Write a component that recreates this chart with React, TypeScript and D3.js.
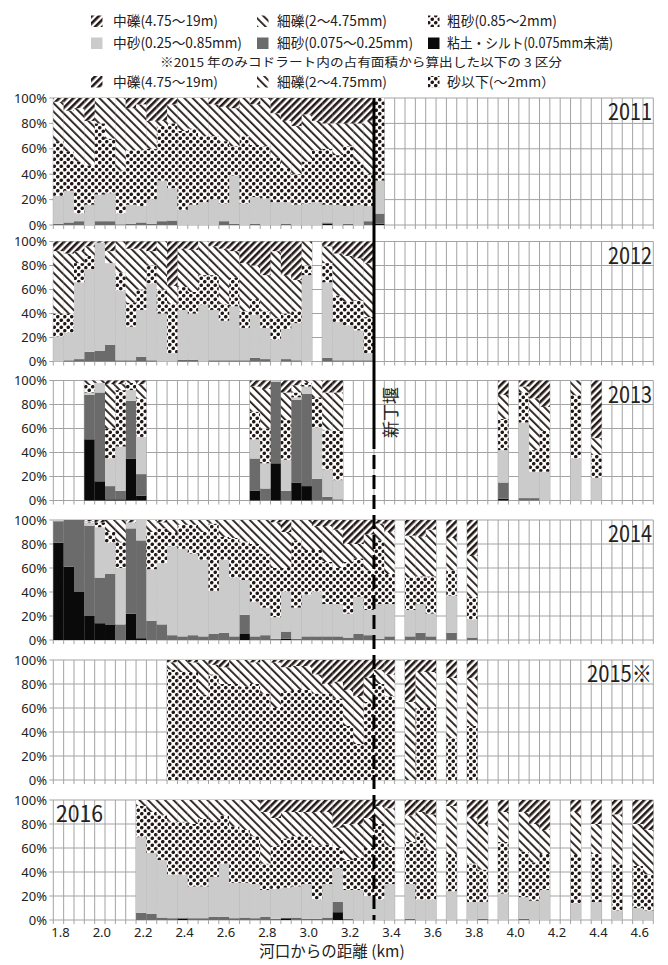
import React from 'react';
import * as d3 from 'd3';

// distance from river mouth (km), one column per 50 m
const distances = [
  '1.80', '1.85', '1.90', '1.95', '2.00', '2.05', '2.10', '2.15', '2.20', '2.25',
  '2.30', '2.35', '2.40', '2.45', '2.50', '2.55', '2.60', '2.65', '2.70', '2.75',
  '2.80', '2.85', '2.90', '2.95', '3.00', '3.05', '3.10', '3.15', '3.20', '3.25',
  '3.30', '3.35', '3.40', '3.45', '3.50', '3.55', '3.60', '3.65', '3.70', '3.75',
  '3.80', '3.85', '3.90', '3.95', '4.00', '4.05', '4.10', '4.15', '4.20', '4.25',
  '4.30', '4.35', '4.40', '4.45', '4.50', '4.55', '4.60', '4.65',
];
const xTickLabels = ['1.8', '2.0', '2.2', '2.4', '2.6', '2.8', '3.0', '3.2', '3.4', '3.6', '3.8', '4.0', '4.2', '4.4', '4.6'];
const yTicks = [0, 20, 40, 60, 80, 100];
const weirKm = '3.35';

const sixKeys = ['silt', 'fineSand', 'mediumSand', 'coarseSand', 'fineGravel', 'mediumGravel'];
const threeKeys = ['sandBelow', 'fineGravel', 'mediumGravel'];

// [km, 粘土・シルト, 細砂, 中砂, 粗砂, 細礫, 中礫] (%)
const rows2011 = [
  ['1.80', 0, 1, 22, 43, 31, 3], ['1.85', 0, 2, 25, 31, 32, 10], ['1.90', 0, 3, 6, 41, 42, 8],
  ['1.95', 0, 0, 16, 31, 35, 18], ['2.00', 0, 3, 21, 56, 20, 0], ['2.05', 0, 3, 22, 43, 32, 0],
  ['2.10', 0, 0.5, 8.5, 34, 57, 0], ['2.15', 0, 1, 15, 43, 33, 8], ['2.20', 0, 2, 13, 44, 36, 5],
  ['2.25', 0, 1, 19, 40, 22, 18], ['2.30', 0, 3, 32, 43, 4, 18], ['2.35', 0, 3.5, 25.5, 51, 15, 5],
  ['2.40', 0, 0, 12, 62, 26, 0], ['2.45', 0, 0, 16, 60, 24, 0], ['2.50', 0, 0, 18, 52, 30, 0],
  ['2.55', 0, 0, 20, 50, 25, 5], ['2.60', 0, 3, 14, 49, 27, 7], ['2.65', 0, 1, 38, 23, 30, 8],
  ['2.70', 0, 0, 17, 53, 30, 0], ['2.75', 0, 1, 21, 41, 32, 5], ['2.80', 0, 0, 21, 41, 38, 0],
  ['2.85', 0, 0, 18, 35, 35, 12], ['2.90', 0, 1, 17, 27, 37, 18], ['2.95', 0, 0, 16, 24, 38, 22],
  ['3.00', 0, 0, 17, 33, 37, 13], ['3.05', 0, 0, 18, 41, 23, 18], ['3.10', 1, 1, 14, 44, 20, 20],
  ['3.15', 0, 0, 16, 39, 25, 20], ['3.20', 0, 1, 14, 47, 18, 20], ['3.25', 0, 0, 16, 34, 30, 20],
  ['3.30', 0, 3, 12, 25, 42, 18], ['3.35', 1, 8, 26, 65, 0, 0],
];

const rows2012 = [
  ['1.80', 0, 0, 21, 19, 52, 8], ['1.85', 0, 1, 23, 16, 50, 10], ['1.90', 0, 2, 64, 16, 10, 8],
  ['1.95', 0, 8, 69, 11, 8, 4], ['2.00', 0, 9, 90, 0, 0, 1], ['2.05', 0, 14, 68, 0, 10, 8],
  ['2.10', 0, 1, 58, 15, 26, 0], ['2.15', 0, 1, 28, 20, 45, 6], ['2.20', 0, 4, 39, 17, 34, 6],
  ['2.25', 0, 1, 64, 15, 12, 8], ['2.30', 0, 0, 40, 20, 40, 0], ['2.35', 0, 0, 7, 41, 15, 37],
  ['2.40', 0, 1.5, 41.5, 19, 32, 6], ['2.45', 0, 1.5, 38.5, 18, 35, 7], ['2.50', 0, 0, 47, 25, 28, 0],
  ['2.55', 0, 1, 42, 29, 24, 4], ['2.60', 0, 1, 33, 14, 46, 6], ['2.65', 0, 1, 45, 24, 22, 8],
  ['2.70', 0, 1, 27, 14, 40, 18], ['2.75', 0, 3, 36, 13, 28, 20], ['2.80', 0, 2, 26, 14, 30, 28],
  ['2.85', 0, 0, 18, 18, 56, 8], ['2.90', 0, 2, 25, 13, 32, 28], ['2.95', 0, 1, 31, 10, 26, 32],
  ['3.00', 0, 0, 72, 8, 20, 0], ['3.10', 0, 3, 63, 16, 14, 4], ['3.15', 0, 1, 32, 22, 35, 10],
  ['3.20', 0, 1, 29, 20, 38, 12], ['3.25', 0, 1, 25, 25, 35, 14], ['3.30', 0, 1, 6, 30, 45, 18],
];

const rows2013 = [
  ['1.95', 51, 37, 2, 7, 3, 0], ['2.00', 16, 74, 8, 0, 2, 0], ['2.05', 1, 11, 23, 25, 37, 3],
  ['2.10', 1, 7, 37, 47, 5, 3], ['2.15', 35, 48, 9, 6, 2, 0], ['2.20', 4, 18, 31, 32, 12, 3],
  ['2.75', 8, 27, 16, 23, 21, 5], ['2.80', 0, 10, 21, 29, 33, 7], ['2.85', 31, 68, 1, 0, 0, 0],
  ['2.90', 0, 8, 26, 33, 23, 10], ['2.95', 15, 69, 2, 4, 6, 4], ['3.00', 12, 77, 6, 3, 2, 0],
  ['3.05', 0, 18, 43, 25, 14, 0], ['3.10', 0, 3, 23, 33, 31, 10], ['3.15', 0, 1, 16, 41, 32, 10],
  ['3.95', 1.5, 13.5, 27, 26, 20, 12], ['4.05', 0, 2, 63, 25, 5, 5], ['4.10', 0, 2, 22, 18, 43, 15],
  ['4.15', 0, 0, 24, 34, 20, 22], ['4.30', 0, 0, 35, 53, 12, 0], ['4.40', 0, 0, 19, 19, 14, 48],
];

const rows2014 = [
  ['1.80', 81, 18, 1, 0, 0, 0], ['1.85', 61, 39, 0, 0, 0, 0], ['1.90', 40, 60, 0, 0, 0, 0],
  ['1.95', 20, 75, 3, 1, 0, 1], ['2.00', 14, 38, 42, 4, 0, 2], ['2.05', 13, 42, 26, 9, 10, 0],
  ['2.10', 0, 13, 47, 22, 18, 0], ['2.15', 22, 71, 5, 0, 0, 2], ['2.20', 1.5, 81.5, 17, 0, 0, 0],
  ['2.25', 0, 16, 43, 31, 10, 0], ['2.30', 0, 13, 51, 29, 5, 2], ['2.35', 0, 4, 74, 12, 10, 0],
  ['2.40', 0, 3, 73, 20, 4, 0], ['2.45', 0, 4, 68, 24, 4, 0], ['2.50', 0, 3, 64, 23, 10, 0],
  ['2.55', 0, 5, 36, 56, 3, 0], ['2.60', 0, 6, 61, 19, 14, 0], ['2.65', 0, 3, 49, 33, 15, 0],
  ['2.70', 5, 16, 29, 32, 18, 0], ['2.75', 0, 3, 29, 48, 20, 0], ['2.80', 0, 4, 23, 45, 28, 0],
  ['2.85', 0, 1, 18, 41, 38, 2], ['2.90', 1, 6, 33, 20, 30, 10], ['2.95', 0, 1, 26, 56, 17, 0],
  ['3.00', 0, 3, 35, 37, 25, 0], ['3.05', 0, 3, 37, 35, 20, 5], ['3.10', 0, 3, 27, 35, 30, 5],
  ['3.15', 0, 3, 27, 30, 32, 8], ['3.20', 0, 2, 20, 43, 15, 20], ['3.25', 0, 5, 31, 32, 12, 20],
  ['3.30', 0, 4, 21, 33, 30, 12], ['3.35', 0, 1, 29, 53, 14, 3], ['3.40', 0, 3, 27, 25, 35, 10],
  ['3.50', 0, 3, 22, 27, 35, 13], ['3.55', 0, 6, 24, 23, 33, 14], ['3.60', 0, 3, 19, 31, 39, 8],
  ['3.70', 0, 6, 31, 21, 27, 15], ['3.80', 0, 2, 15, 19, 34, 30],
];

// 2015: [km, 砂以下, 細礫, 中礫] (%)
const rows2015 = [
  ['2.35', 92, 6, 2], ['2.40', 90, 10, 0], ['2.45', 90, 8, 2], ['2.50', 71, 29, 0], ['2.55', 88, 8, 4],
  ['2.60', 80, 14, 6], ['2.65', 80, 20, 0], ['2.70', 78, 22, 0], ['2.75', 80, 18, 2], ['2.80', 72, 28, 0],
  ['2.85', 60, 38, 2], ['2.90', 74, 20, 6], ['2.95', 75, 20, 5], ['3.00', 75, 20, 5], ['3.05', 72, 16, 12],
  ['3.10', 72, 8, 20], ['3.15', 68, 14, 18], ['3.20', 45, 30, 25], ['3.25', 30, 40, 30], ['3.30', 65, 20, 15],
  ['3.35', 80, 12, 8], ['3.40', 70, 18, 12], ['3.50', 0, 65, 35], ['3.55', 60, 30, 10], ['3.60', 60, 30, 10],
  ['3.70', 35, 50, 15], ['3.80', 45, 40, 15],
];

const rows2016 = [
  ['2.20', 0, 6, 63, 26, 5, 0], ['2.25', 0, 5, 51, 34, 10, 0], ['2.30', 0, 2, 48, 38, 12, 0],
  ['2.35', 0, 1.5, 36.5, 44, 18, 0], ['2.40', 1, 1, 36, 44, 18, 0], ['2.45', 0, 1.5, 26.5, 52, 20, 0],
  ['2.50', 0, 1.5, 26.5, 57, 15, 0], ['2.55', 0, 2.5, 33.5, 47, 17, 0], ['2.60', 0, 2.5, 44.5, 40, 13, 0],
  ['2.65', 0, 1.5, 29.5, 47, 22, 0], ['2.70', 0, 2, 29, 44, 25, 0], ['2.75', 0, 1.5, 28.5, 40, 30, 0],
  ['2.80', 0, 2.5, 22.5, 22, 43, 10], ['2.85', 0, 1, 25, 36, 23, 15], ['2.90', 1.5, 0, 25.5, 41, 22, 10],
  ['2.95', 0, 2, 26, 42, 20, 10], ['3.00', 0, 1, 29, 40, 20, 10], ['3.05', 0, 1, 16, 45, 28, 10],
  ['3.10', 0, 2, 28, 33, 27, 10], ['3.15', 6.5, 8.5, 28, 17, 17, 23], ['3.20', 0, 1, 24, 25, 30, 20],
  ['3.25', 0, 0, 25, 27, 28, 20], ['3.30', 0, 0, 20, 40, 25, 15], ['3.35', 0, 0, 17, 63, 15, 5],
  ['3.40', 0, 0, 30, 32, 31, 7], ['3.50', 0, 1, 29, 35, 22, 13], ['3.55', 0, 0, 17, 56, 17, 10],
  ['3.60', 0, 0, 17, 41, 30, 12], ['3.70', 0, 0, 24, 31, 40, 5], ['3.80', 0, 0, 15, 32, 38, 15],
  ['3.85', 0, 1, 14, 27, 38, 20], ['3.95', 0, 0, 22, 43, 25, 10], ['4.05', 0, 1, 18, 38, 33, 10],
  ['4.10', 0, 0, 16, 32, 32, 20], ['4.15', 0, 0, 25, 30, 20, 25], ['4.30', 0, 0, 14, 41, 35, 10],
  ['4.40', 0, 0, 15, 40, 25, 20], ['4.50', 0, 0, 8, 39, 41, 12], ['4.60', 0, 0, 10, 35, 35, 20],
  ['4.65', 0, 0, 8, 30, 37, 25],
];

const legendMain = [
  ['中礫(4.75〜19m)', 'mediumGravel'], ['細礫(2〜4.75mm)', 'fineGravel'], ['粗砂(0.85〜2mm)', 'coarseSand'],
  ['中砂(0.25〜0.85mm)', 'mediumSand'], ['細砂(0.075〜0.25mm)', 'fineSand'], ['粘土・シルト(0.075mm未満)', 'silt'],
];
const legend2015 = [['中礫(4.75〜19m)', 'mediumGravel'], ['細礫(2〜4.75mm)', 'fineGravel'], ['砂以下(〜2mm）', 'sandBelow']];
const note2015 = '※2015 年のみコドラート内の占有面積から算出した以下の 3 区分';

const INK = '#231815';
const fills = {
  silt: '#0a0a0a',
  fineSand: '#6b6b6b',
  mediumSand: '#cbcbcb',
  coarseSand: 'url(#pDots)',
  sandBelow: 'url(#pDots)',
  fineGravel: 'url(#pFine)',
  mediumGravel: 'url(#pMed)',
};

const FONT = '"Noto Sans CJK JP", "Noto Sans", sans-serif';
const plotLeft = 53.3;
const plotRight = 653.3;

const panels = [
  { label: '2011', rows: rows2011, keys: sixKeys, top: 98, bottom: 225, left: false, len: 44 },
  { label: '2012', rows: rows2012, keys: sixKeys, top: 241.5, bottom: 361.5, left: false, len: 44 },
  { label: '2013', rows: rows2013, keys: sixKeys, top: 380.5, bottom: 500.5, left: false, len: 44 },
  { label: '2014', rows: rows2014, keys: sixKeys, top: 520, bottom: 640, left: false, len: 44 },
  { label: '2015※', rows: rows2015, keys: threeKeys, top: 660, bottom: 780, left: false, len: 65 },
  { label: '2016', rows: rows2016, keys: sixKeys, top: 800, bottom: 920, left: true, len: 47 },
];

const x = d3.scaleBand().domain(distances).range([plotLeft, plotRight]).padding(0);
const bw = x.bandwidth();
const colEdges = distances.map(d => x(d)).concat([plotRight]);

const Panel = ({ p }) => {
  const y = d3.scaleLinear().domain([0, 100]).range([p.bottom, p.top]);
  const data = p.rows.map(r => {
    const o = { km: r[0] };
    p.keys.forEach((k, i) => { o[k] = r[i + 1]; });
    return o;
  });
  const series = d3.stack().keys(p.keys)(data);
  return (
    <g>
      {yTicks.map(t => (
        <g key={t}>
          <line x1={plotLeft - 4} x2={plotRight} y1={y(t)} y2={y(t)} stroke="#a3a3a3" strokeWidth={1} />
          <text x={47} y={y(t)} dy="0.35em" textAnchor="end" fontSize={13} fontFamily="'Noto Sans', sans-serif" fill="#222">{t}%</text>
        </g>
      ))}
      {colEdges.map((e, i) => (
        <line key={i} x1={e} x2={e} y1={p.top} y2={p.bottom + 4} stroke="#a3a3a3" strokeWidth={1} />
      ))}
      {series.map(s => (
        <g key={s.key} fill={fills[s.key]}>
          {s.filter(d => d[1] > d[0]).map(d => (
            <rect key={d.data.km} x={x(d.data.km)} width={bw} y={y(d[1])} height={y(d[0]) - y(d[1])} />
          ))}
        </g>
      ))}
      <text
        x={p.left ? 56 : 652}
        y={p.top + 22}
        textAnchor={p.left ? 'start' : 'end'}
        fontSize={23}
        fontFamily={FONT}
        fill="#222"
        textLength={p.len}
        lengthAdjust="spacingAndGlyphs"
      >{p.label}</text>
    </g>
  );
};

const legendCols = [{ sx: 91, tx: 113 }, { sx: 257, tx: 277 }, { sx: 428, tx: 447 }];
const legendLens = [105, 110, 110, 129, 136, 166];
const legend2015Lens = [105, 110, 108];

const Swatch = ({ sx, cy, k }) => (
  <rect x={sx} y={cy - 6} width={11.5} height={11.5} fill={fills[k]} />
);

export default function App() {
  const weirX = x(weirKm);
  return (
    <svg width={668} height={965} style={{ position: 'absolute', left: 0, top: 0, background: '#fff' }}>
      <defs>
        <pattern id="pMed" patternUnits="userSpaceOnUse" width={5} height={5} patternTransform="rotate(45)">
          <rect width={5} height={5} fill="#fff" />
          <rect width={2.6} height={5} fill={INK} />
        </pattern>
        <pattern id="pFine" patternUnits="userSpaceOnUse" width={6} height={6} patternTransform="rotate(-45)">
          <rect width={6} height={6} fill="#fff" />
          <rect width={1.8} height={6} fill={INK} />
        </pattern>
        <pattern id="pDots" patternUnits="userSpaceOnUse" width={7} height={7}>
          <rect width={7} height={7} fill="#fff" />
          <circle cx={1.75} cy={1.75} r={1.8} fill={INK} />
          <circle cx={5.25} cy={5.25} r={1.8} fill={INK} />
        </pattern>
      </defs>

      {/* legend */}
      <g fontFamily={FONT} fontSize={14} fill="#222">
        {legendMain.map(([label, k], i) => {
          const c = legendCols[i % 3];
          const cy = i < 3 ? 21.5 : 43.5;
          return (
            <g key={label}>
              <Swatch sx={c.sx} cy={cy} k={k} />
              <text x={c.tx} y={cy} dy="0.35em" textLength={legendLens[i]} lengthAdjust="spacingAndGlyphs">{label}</text>
            </g>
          );
        })}
        <text x={160} y={62.5} dy="0.35em" fontSize={12} textLength={402} lengthAdjust="spacingAndGlyphs">{note2015}</text>
        {legend2015.map(([label, k], i) => {
          const c = legendCols[i];
          return (
            <g key={label}>
              <Swatch sx={c.sx} cy={82} k={k} />
              <text x={c.tx} y={82} dy="0.35em" fontSize={13.5} textLength={legend2015Lens[i]} lengthAdjust="spacingAndGlyphs">{label}</text>
            </g>
          );
        })}
      </g>

      {panels.map(p => <Panel key={p.label} p={p} />)}

      {/* x axis */}
      {xTickLabels.map(l => (
        <text key={l} x={x(Number(l).toFixed(2)) + bw / 2 + 2} y={932} dy="0.35em" textAnchor="middle" fontSize={13} fontFamily="'Noto Sans', sans-serif" fill="#222">{l}</text>
      ))}
      <text x={332} y={952} dy="0.35em" textAnchor="middle" fontSize={15.5} fontFamily={FONT} fill="#222">河口からの距離 (km)</text>

      {/* weir */}
      <line x1={weirX} x2={weirX} y1={98} y2={435} stroke="#000" strokeWidth={3} />
      <line x1={weirX} x2={weirX} y1={435} y2={920} stroke="#000" strokeWidth={3} strokeDasharray="14 6" />
      <text x={397} y={438} transform="rotate(-90 397 438)" fontSize={17} fontFamily={FONT} fill="#222">新丁堰</text>
    </svg>
  );
}
